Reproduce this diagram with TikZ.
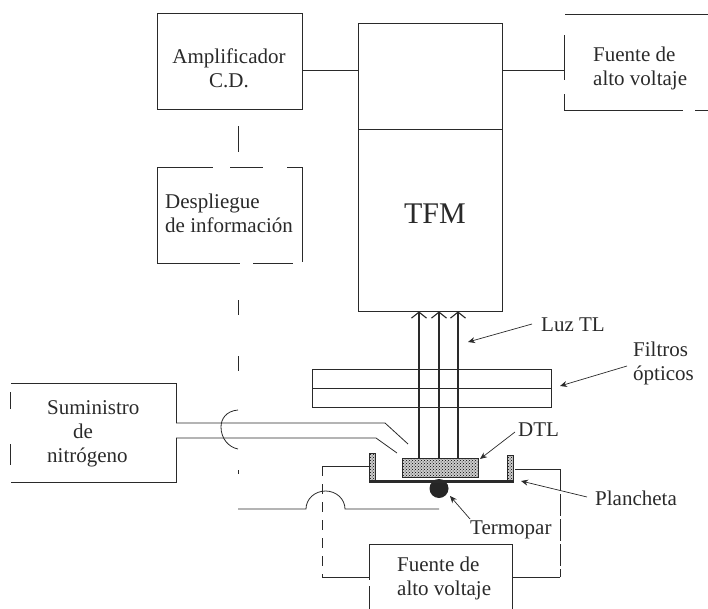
\documentclass[tikz,border=0pt]{standalone}
\usepackage{fontspec}
\setmainfont{Liberation Serif}
\usepackage{xcolor}
\usetikzlibrary{arrows.meta,patterns}
\definecolor{INK}{HTML}{2A2A2A}
\tikzset{
  box/.style={draw=INK, line width=0.8pt, rectangle, inner sep=0pt},
  txt/.style={font=\fontsize{21}{24}\selectfont, color=INK, inner sep=0pt},
  wire/.style={draw=INK, line width=0.8pt},
  gap/.style={draw=white, line width=2pt},
  pointer/.style={draw=INK, line width=0.7pt, -{Stealth[length=7pt,width=6pt]}},
  beam/.style={draw=INK, line width=1.1pt, -{Straight Barb[length=6pt,width=15pt]}},
  grainy/.style={pattern=crosshatch dots, pattern color=black, preaction={fill=black!20}}
}

\begin{document}
\begin{tikzpicture}[x=1pt,y=-1pt]
        \useasboundingbox (0,0) rectangle (708,609);
        %% boxes of the upper row
        \node[box, minimum width=145pt, minimum height=96pt] (amp) at (229.5,61) {};
        \node[box, minimum width=144pt, minimum height=106pt] (tfmtop) at (430,76) {};
        \node[box, minimum width=144pt, minimum height=182pt] (tfm) at (430,220) {};
        \node[box, minimum width=148pt, minimum height=96pt] (hvtop) at (638,62) {};
        \node[box, minimum width=145pt, minimum height=96pt] (disp) at (229.5,215) {};
        \node[box, minimum width=166pt, minimum height=99pt] (nitro) at (93,432.5) {};
        \node[box, minimum width=143pt, minimum height=69pt] (hvlow) at (440.5,578.5) {};
        %% the scan loses parts of the box lines
        \foreach \xa/\ya/\xb/\yb in {10/382/10/392, 10/409/10/444, 10/465/10/484,
            564/13/564/35, 564/80/564/94, 213/167/230/167, 263/167/287/167,
            240/263/253/263, 293/263/303/263, 683/110/695/110, 369/580/369/586}{
          \draw[gap] (\xa,\ya) -- (\xb,\yb);
        }
        %% the two filters
        \node[box, minimum width=239pt, minimum height=19pt] (filtup) at (431.5,378.5) {};
        \node[box, minimum width=239pt, minimum height=19pt] (filtdown) at (431.5,397.5) {};
        %% texts
        \node[txt, align=center] (amptxt) at (229,68) {Amplificador\\C.D.};
        \node[txt, align=left, anchor=west] (disptxt) at (165,213) {Despliegue\\de información};
        \node[txt, align=left, anchor=west] (hvtoptxt) at (593,68) {Fuente de\\alto voltaje};
        \node[txt, font=\fontsize{30}{30}\selectfont] (tfmtxt) at (435,214) {TFM};
        \node[txt, align=left, anchor=west] (nitrotxt) at (47,434) {Suministro\\\hspace*{26pt}de\\nitrógeno};
        \node[txt, align=left, anchor=west] (hvlowtxt) at (397,578) {Fuente de\\alto voltaje};
        \node[txt, anchor=west] (luz) at (541,325) {Luz TL};
        \node[txt, align=left, anchor=west] (filt) at (633,363) {Filtros\\ópticos};
        \node[txt, anchor=west] (dtl) at (518,430) {DTL};
        \node[txt, anchor=west] (plan) at (595,498) {Plancheta};
        \node[txt, anchor=west] (termo) at (470,530) {Termopar};
        %% sample holder
        \draw[grainy, draw=INK, line width=0.5pt] (369,453) rectangle (375,482);
        \draw[grainy, draw=INK, line width=0.5pt] (507,455) rectangle (513,482);
        \node[box, grainy, minimum width=76pt, minimum height=19pt] (sample) at (440,467.5) {};
        \fill[black!85] (439,488.5) circle (9.5);
        \draw[INK, line width=3pt] (369,481.5) -- (513,481.5);
        %% light going up to the tube
        \foreach \xx in {419,439,458}{
          \draw[beam] (sample.north -| \xx,0) -- (tfm.south -| \xx,0);
        }
        %% connectors
        \coordinate (topline) at (330,70);
        \coordinate (drop) at (238,300);
        \draw[wire] (amp.east |- topline) -- (tfmtop.west |- topline);
        \draw[wire] (tfmtop.east |- topline) -- (hvtop.west |- topline);
        \draw[wire, dash pattern=on 26pt off 40pt, dash phase=49pt] (amp.south -| drop) -- (disp.north -| drop);
        %% signal wire, hops over the nitrogen tube
        \coordinate (hopin) at (238,410);
        \coordinate (hopout) at (238,449);
        \coordinate (corner) at (238,509);
        \coordinate (wireend) at (439,509);
        \draw[wire, dash pattern=on 15pt off 41pt, dash phase=19pt] (disp.south -| drop) -- (hopin);
        \draw[wire] (hopin) .. controls (226,411) and (221,419) .. (221,427)
          .. controls (221,438) and (228,447) .. (hopout);
        \draw[wire, dash pattern=on 4pt off 60pt, dash phase=43pt] (hopout) -- (corner);
        \draw[wire] (corner) -- (306,509) arc[start angle=180, end angle=0, x radius=19.5pt, y radius=18pt]
          -- (wireend);
        %% nitrogen tube
        \coordinate (tubeup) at (176,423);
        \coordinate (tubedown) at (176,438);
        \draw[gap] (tubeup) -- (tubedown);
        \draw[wire] (tubeup) -- (385,423) -- (408,444);
        \draw[wire] (tubedown) -- (376,438) -- (397,453);
        %% heater supply
        \coordinate (wallleft) at (369,466);
        \coordinate (wallright) at (515,469);
        \coordinate (hvleft) at (369,577);
        \coordinate (hvright) at (512,577);
        \draw[wire] (wallleft) -- (322,466);
        \draw[wire, dash pattern=on 10pt off 8pt] (322,466) -- (322,577);
        \draw[wire] (322,577) -- (hvleft);
        \draw[wire] (wallright) -- (560,469);
        \draw[wire, dash pattern=on 22pt off 3pt] (560,469) -- (560,577);
        \draw[wire] (560,577) -- (hvright);
        %% pointers to the parts
        \coordinate (luzend) at (468,342);
        \coordinate (filtend) at (560,386);
        \coordinate (dtlend) at (480,459);
        \coordinate (planend) at (521,481);
        \coordinate (termoend) at (450,496);
        \draw[pointer] (532,324) -- (luzend);
        \draw[pointer] (627,366) -- (filtend);
        \draw[pointer] (515,432) -- (dtlend);
        \draw[pointer] (587,497) -- (planend);
        \draw[pointer] (470,519) -- (termoend);
      \end{tikzpicture}
\end{document}
